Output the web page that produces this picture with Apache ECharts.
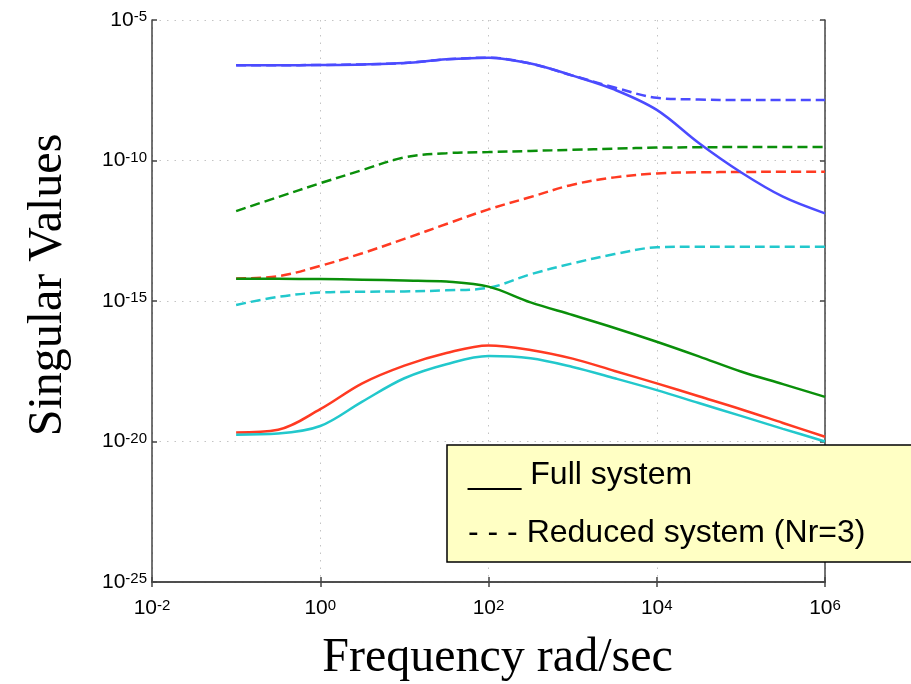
<!DOCTYPE html>
<html>
<head>
<meta charset="utf-8">
<title>Singular Values</title>
<script src="https://cdn.jsdelivr.net/npm/echarts@6/dist/echarts.min.js"></script>
<style>
  html, body { margin: 0; padding: 0; background: #fff; }
  #main { width: 911px; height: 684px; }
</style>
</head>
<body>
<div id="main"></div>
<script>
// frequency samples (rad/sec), half a decade apart
var freq = [0.1, 0.316, 1, 3.16, 10, 31.6, 100, 316, 1000, 3160, 1e4, 3.16e4, 1e5, 3.16e5, 1e6];

// full system (solid)
var blueFull  = [2.45e-7, 2.45e-7, 2.51e-7, 2.63e-7, 2.95e-7, 3.98e-7, 4.57e-7, 2.82e-7, 1.05e-7, 3.31e-8, 6.31e-9, 4.17e-10, 3.80e-11, 5.13e-12, 1.32e-12];
var greenFull = [6.17e-15, 6.17e-15, 6.03e-15, 5.75e-15, 5.37e-15, 4.90e-15, 3.24e-15, 8.91e-16, 3.16e-16, 1.10e-16, 3.55e-17, 1.07e-17, 3.09e-18, 1.10e-18, 3.89e-19];
var redFull   = [2.09e-20, 2.63e-20, 1.41e-19, 1.17e-18, 5.01e-18, 1.41e-17, 2.63e-17, 1.82e-17, 8.91e-18, 3.24e-18, 1.17e-18, 4.07e-19, 1.41e-19, 4.57e-20, 1.48e-20];
var cyanFull  = [1.74e-20, 1.91e-20, 3.55e-20, 2.63e-19, 1.78e-18, 5.62e-18, 1.10e-17, 9.12e-18, 4.47e-18, 1.78e-18, 6.76e-19, 2.34e-19, 8.13e-20, 2.82e-20, 1.00e-20];

// reduced system, Nr=3 (dashed)
var blueRed  = [2.45e-7, 2.45e-7, 2.51e-7, 2.63e-7, 2.95e-7, 3.98e-7, 4.57e-7, 2.82e-7, 1.05e-7, 3.98e-8, 1.70e-8, 1.48e-8, 1.41e-8, 1.41e-8, 1.41e-8];
var greenRed = [1.58e-12, 5.01e-12, 1.55e-11, 4.57e-11, 1.29e-10, 1.82e-10, 2.00e-10, 2.19e-10, 2.40e-10, 2.63e-10, 2.88e-10, 2.95e-10, 3.02e-10, 3.02e-10, 3.02e-10];
var redRed   = [6.31e-15, 7.59e-15, 1.78e-14, 5.01e-14, 1.62e-13, 5.50e-13, 1.82e-12, 5.01e-12, 1.38e-11, 2.51e-11, 3.47e-11, 3.80e-11, 3.89e-11, 3.98e-11, 3.98e-11];
var cyanRed  = [7.24e-16, 1.41e-15, 2.00e-15, 2.14e-15, 2.19e-15, 2.40e-15, 2.95e-15, 8.91e-15, 2.19e-14, 4.68e-14, 8.13e-14, 8.51e-14, 8.51e-14, 8.51e-14, 8.51e-14];

// tick labels are powers of ten
var xTickExp = [-2, 0, 2, 4, 6];
var yTickExp = [-25, -20, -15, -10, -5];
var legendLines = ['___ Full system', '- - - Reduced system (Nr=3)'];

var chart = echarts.init(document.getElementById('main'));

function pairs(ys) {
  return freq.map(function (f, i) { return [f, ys[i]]; });
}

function powLabel(v) {
  var e = Math.round(Math.log10(v));
  return '{b|10}{s|' + e + '}';
}

var labelRich = {
  b: { fontSize: 21, lineHeight: 21, padding: [6, 0, 0, 0], verticalAlign: 'bottom', fontFamily: 'Liberation Sans', color: '#000' },
  s: { fontSize: 15, lineHeight: 15, verticalAlign: 'top', fontFamily: 'Liberation Sans', color: '#000' }
};

var axisLineStyle = { color: '#444', width: 1.5 };
var gridLineStyle = { color: '#c4c4c4', width: 1, type: [1.5, 6] };
var titleStyle = { fontFamily: 'Liberation Serif', fontSize: 48, color: '#000' };

// min nudged a hair below the decade so the first tick label is kept
function xAxisOf(pos, main) {
  return {
    type: 'log', logBase: 100, position: pos,
    min: Math.pow(10, xTickExp[0]) * 0.99999, max: Math.pow(10, xTickExp[xTickExp.length - 1]),
    axisLine: { show: true, lineStyle: axisLineStyle },
    axisTick: { show: true, inside: true, length: 5, lineStyle: axisLineStyle },
    axisLabel: { show: main, margin: 16, showMinLabel: true, showMaxLabel: true, formatter: powLabel, rich: labelRich },
    splitLine: { show: main, lineStyle: gridLineStyle },
    name: main ? 'Frequency rad/sec' : '',
    nameLocation: 'middle',
    nameGap: 52,
    nameMoveOverlap: false,
    nameTextStyle: Object.assign({ padding: [0, 0, 0, 18] }, titleStyle)
  };
}

function yAxisOf(pos, main) {
  return {
    type: 'log', logBase: 1e5, position: pos,
    min: Math.pow(10, yTickExp[0]) * 0.99999, max: Math.pow(10, yTickExp[yTickExp.length - 1]),
    axisLine: { show: true, lineStyle: axisLineStyle },
    axisTick: { show: true, inside: true, length: 5, lineStyle: axisLineStyle },
    axisLabel: { show: main, margin: 5, showMinLabel: true, showMaxLabel: true, formatter: powLabel, rich: labelRich },
    splitLine: { show: main, lineStyle: gridLineStyle },
    name: main ? 'Singular Values' : '',
    nameLocation: 'middle',
    nameRotate: 90,
    nameGap: 80,
    nameMoveOverlap: false,
    nameTextStyle: Object.assign({ padding: [0, 0, 0, 32] }, titleStyle)
  };
}

function line(data, color, dashed) {
  return {
    type: 'line',
    data: pairs(data),
    smooth: 0.35,
    showSymbol: false,
    silent: true,
    lineStyle: { color: color, width: 2.5, type: dashed ? [10, 5] : 'solid' }
  };
}

chart.setOption({
  animation: false,
  backgroundColor: '#fff',
  grid: { left: 152, right: 86, top: 20, bottom: 102, containLabel: false, outerBoundsMode: 'none' },
  xAxis: [xAxisOf('bottom', true), xAxisOf('top', false)],
  yAxis: [yAxisOf('left', true), yAxisOf('right', false)],
  series: [
    line(blueRed, '#4b4bff', true),
    line(greenRed, '#0a8f0a', true),
    line(redRed, '#ff3a22', true),
    line(cyanRed, '#22c8cc', true),
    line(blueFull, '#4b4bff', false),
    line(greenFull, '#0a8f0a', false),
    line(redFull, '#ff3a22', false),
    line(cyanFull, '#22c8cc', false)
  ],
  graphic: [
    {
      type: 'rect', x: 447, y: 445, z: 100,
      shape: { x: 0, y: 0, width: 480, height: 117 },
      style: { fill: '#ffffc4', stroke: '#000', lineWidth: 1.5 }
    },
    {
      type: 'text', x: 468, y: 475, z: 101,
      style: { text: legendLines[0], fontSize: 32, fontFamily: 'Liberation Sans', fill: '#000', verticalAlign: 'middle' }
    },
    {
      type: 'text', x: 468, y: 533, z: 101,
      style: { text: legendLines[1], fontSize: 32, fontFamily: 'Liberation Sans', fill: '#000', verticalAlign: 'middle' }
    }
  ]
});
</script>
</body>
</html>
